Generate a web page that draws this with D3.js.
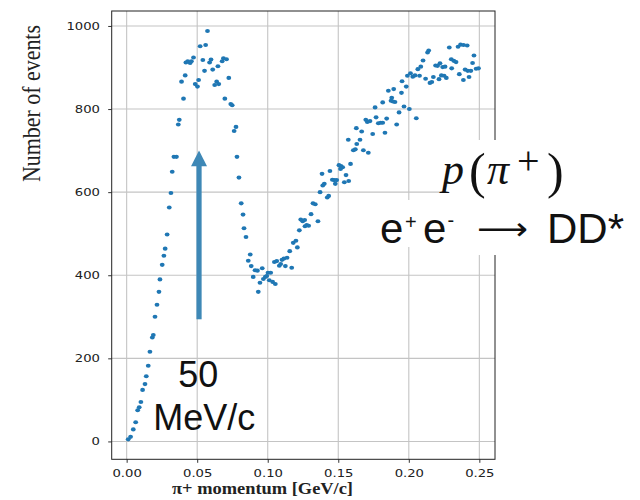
<!DOCTYPE html>
<html>
<head>
<meta charset="utf-8">
<script src="https://cdn.jsdelivr.net/npm/d3@7"></script>
<style>
  body { margin: 0; background: #fff; }
  svg { display: block; }
</style>
</head>
<body>
<svg id="chart" width="640" height="500"></svg>
<script>
// pi+ momentum (GeV/c) and event counts
const momentum = [
  0.0011, 0.0028, 0.0047, 0.0064, 0.0078, 0.0089, 0.0101, 0.0113, 0.0130, 0.0139,
  0.0153, 0.0165, 0.0182, 0.0189, 0.0201, 0.0215, 0.0229, 0.0236, 0.0252, 0.0264,
  0.0273, 0.0287, 0.0302, 0.0314, 0.0323, 0.0335, 0.0353, 0.0366, 0.0373, 0.0389,
  0.0403, 0.0415, 0.0420, 0.0433, 0.0450, 0.0459, 0.0474, 0.0486, 0.0502, 0.0510,
  0.0521, 0.0540, 0.0552, 0.0560, 0.0573, 0.0588, 0.0598, 0.0610, 0.0624, 0.0638,
  0.0647, 0.0653, 0.0677, 0.0686, 0.0696, 0.0708, 0.0724, 0.0738, 0.0748, 0.0762,
  0.0775, 0.0782, 0.0796, 0.0812, 0.0825, 0.0832, 0.0846, 0.0862, 0.0876, 0.0883,
  0.0897, 0.0910, 0.0927, 0.0933, 0.0945, 0.0961, 0.0969, 0.0983, 0.0993, 0.1002,
  0.1011, 0.1021, 0.1035, 0.1047, 0.1054, 0.1064, 0.1082, 0.1092, 0.1101, 0.1115,
  0.1125, 0.1137, 0.1156, 0.1170, 0.1181, 0.1200, 0.1210, 0.1224, 0.1234, 0.1248,
  0.1262, 0.1264, 0.1276, 0.1290, 0.1307, 0.1321, 0.1337, 0.1356, 0.1371, 0.1385,
  0.1390, 0.1401, 0.1422, 0.1432, 0.1441, 0.1458, 0.1471, 0.1479, 0.1489, 0.1505,
  0.1519, 0.1531, 0.1516, 0.1543, 0.1555, 0.1574, 0.1587, 0.1571, 0.1607, 0.1621,
  0.1631, 0.1628, 0.1654, 0.1666, 0.1678, 0.1695, 0.1706, 0.1713, 0.1725, 0.1744,
  0.1761, 0.1768, 0.1784, 0.1801, 0.1815, 0.1815, 0.1831, 0.1843, 0.1855, 0.1874,
  0.1879, 0.1888, 0.1893, 0.1902, 0.1914, 0.1931, 0.1948, 0.1952, 0.1966, 0.1982,
  0.1990, 0.2004, 0.2012, 0.2028, 0.2044, 0.2053, 0.2064, 0.2085, 0.2076, 0.2101,
  0.2119, 0.2133, 0.2141, 0.2150, 0.2163, 0.2174, 0.2190, 0.2204, 0.2214, 0.2221,
  0.2231, 0.2240, 0.2250, 0.2257, 0.2266, 0.2287, 0.2301, 0.2304, 0.2319, 0.2335,
  0.2349, 0.2358, 0.2367, 0.2388, 0.2387, 0.2399, 0.2414, 0.2418, 0.2427, 0.2440,
  0.2452, 0.2462, 0.2477, 0.2494
];
const events = [
  5, 11, 29, 46, 75, 82, 95, 124, 138, 157,
  182, 216, 250, 256, 300, 329, 360, 390, 425, 447,
  464, 498, 563, 598, 649, 685, 685, 763, 774, 866,
  825, 881, 912, 915, 911, 915, 924, 860, 854, 870,
  951, 918, 892, 954, 988, 912, 919, 895, 858, 866,
  903, 860, 915, 922, 825, 920, 875, 812, 809, 747,
  757, 685, 635, 573, 546, 513, 492, 435, 450, 422,
  396, 412, 411, 360, 382, 417, 391, 396, 398, 406,
  388, 406, 384, 432, 379, 434, 423, 427, 437, 440,
  422, 442, 458, 418, 478, 483, 467, 508, 534, 530,
  533, 518, 521, 519, 547, 573, 571, 530, 600, 644,
  616, 620, 587, 591, 651, 630, 629, 620, 629, 665,
  663, 660, 656, 624, 641, 627, 668, 726, 701, 703,
  716, 754, 726, 746, 701, 774, 769, 695, 771, 740,
  804, 780, 766, 767, 816, 767, 743, 777, 844, 820,
  827, 818, 848, 817, 763, 792, 839, 867, 806, 854,
  880, 800, 886, 878, 881, 778, 896, 902, 880, 917,
  873, 936, 941, 863, 865, 877, 905, 904, 872, 910,
  881, 901, 880, 902, 875, 948, 920, 898, 916, 913,
  950, 884, 955, 954, 870, 895, 953, 892, 877, 892,
  911, 929, 897, 898
];
const xTicks = [0, 0.05, 0.10, 0.15, 0.20, 0.25];
const yTicks = [0, 200, 400, 600, 800, 1000];

// annotation arrow: at 50 MeV/c, from ~294 up to ~700 events
const arrowAt = 0.0513;
const arrowSpan = [294, 700];

const LEFT = 111.7, RIGHT = 495, TOP = 11, BOTTOM = 459.3;
const STRETCH = 1.2; // the source figure was stretched sideways

const svg = d3.select("#chart");

const x = d3.scaleLinear().domain([-0.0106, 0.2611]).range([LEFT, RIGHT]);
const y = d3.scaleLinear().domain([-43, 1036]).range([BOTTOM, TOP]);

// grid
const grid = svg.append("g").attr("stroke", "#c4c4c4").attr("stroke-width", 1.1);
grid.selectAll(".gx").data(xTicks).join("line")
  .attr("x1", d => x(d)).attr("x2", d => x(d))
  .attr("y1", TOP).attr("y2", BOTTOM);
grid.selectAll(".gy").data(yTicks).join("line")
  .attr("x1", LEFT).attr("x2", RIGHT)
  .attr("y1", d => y(d)).attr("y2", d => y(d));

// axes
const xAxis = svg.append("g")
  .attr("transform", `translate(0, ${BOTTOM})`)
  .call(d3.axisBottom(x).tickValues(xTicks).tickFormat(d3.format(".2f"))
    .tickSize(3.5).tickPadding(6.5));
const yAxis = svg.append("g")
  .attr("transform", `translate(${LEFT}, 0)`)
  .call(d3.axisLeft(y).tickValues(yTicks).tickFormat(d3.format("d"))
    .tickSize(3.5).tickPadding(6.25));

[xAxis, yAxis].forEach(g => {
  g.select(".domain").remove();
  g.selectAll(".tick line").attr("stroke", "#333");
  g.selectAll(".tick text")
    .attr("fill", "#222")
    .attr("font-family", "DejaVu Sans")
    .attr("font-size", 11)
    .attr("transform", `scale(${STRETCH},1)`);
});

// points
svg.append("g")
  .selectAll("ellipse")
  .data(momentum.map((m, i) => [m, events[i]]))
  .join("ellipse")
  .attr("cx", d => x(d[0]))
  .attr("cy", d => y(d[1]))
  .attr("rx", 2.4)
  .attr("ry", 2.05)
  .attr("fill", "#1f77b4");

// frame
svg.append("rect")
  .attr("x", LEFT).attr("y", TOP)
  .attr("width", RIGHT - LEFT).attr("height", BOTTOM - TOP)
  .attr("fill", "none").attr("stroke", "#222").attr("stroke-width", 1);

// axis labels
svg.append("text")
  .attr("x", 172).attr("y", 494)
  .attr("font-family", "Liberation Serif").attr("font-weight", "bold")
  .attr("font-size", 17)
  .attr("textLength", 181).attr("lengthAdjust", "spacingAndGlyphs")
  .attr("fill", "#222")
  .text("\u03c0+ momentum [GeV/c]");

svg.append("text")
  .attr("transform", "translate(40, 103.5) rotate(-90)")
  .attr("text-anchor", "middle")
  .attr("font-family", "Liberation Serif")
  .attr("font-size", 25)
  .attr("textLength", 157).attr("lengthAdjust", "spacingAndGlyphs")
  .attr("fill", "#222")
  .text("Number of events");

// arrow
const ax = x(arrowAt), tip = y(arrowSpan[1]), tail = y(arrowSpan[0]);
svg.append("rect")
  .attr("x", ax - 2.6).attr("y", tip + 14)
  .attr("width", 5.2).attr("height", tail - tip - 14)
  .attr("fill", "#3e88b6");
svg.append("path")
  .attr("d", `M${ax},${tip} L${ax + 8},${tip + 15.6} L${ax - 8},${tip + 15.6} Z`)
  .attr("fill", "#3e88b6");

// "50 MeV/c"
const note = svg.append("g")
  .attr("font-family", "Liberation Sans").attr("font-size", 36)
  .attr("text-anchor", "middle").attr("fill", "#111");
note.append("text").attr("x", 198.3).attr("y", 387).text("50");
note.append("text").attr("x", 204.2).attr("y", 430).text("MeV/c");

// white boxes behind the overlay formulas
const boxes = [[443, 140, 197, 60], [374, 200, 266, 47], [470, 247, 170, 8]];
svg.append("g").selectAll("rect").data(boxes).join("rect")
  .attr("x", d => d[0]).attr("y", d => d[1])
  .attr("width", d => d[2]).attr("height", d => d[3])
  .attr("fill", "#fff");

// p(pi+)
const pp = svg.append("g").attr("font-family", "Liberation Serif").attr("fill", "#111");
pp.append("text").attr("x", 442).attr("y", 184).attr("font-size", 44)
  .attr("font-style", "italic").text("p");
pp.append("text").attr("x", 469).attr("y", 188).attr("font-size", 50).text("(");
pp.append("text").attr("x", 487).attr("y", 184).attr("font-size", 44)
  .attr("font-style", "italic").text("\u03c0");
pp.append("text").attr("x", 517).attr("y", 174).attr("font-size", 40).text("+");
pp.append("text").attr("x", 547).attr("y", 188).attr("font-size", 50).text(")");

// e+e- -> DD*
const ee = svg.append("g").attr("font-family", "Liberation Sans").attr("fill", "#111");
ee.append("text").attr("x", 380).attr("y", 243).attr("font-size", 42).text("e");
ee.append("text").attr("x", 405).attr("y", 229).attr("font-size", 20).text("+");
ee.append("text").attr("x", 423).attr("y", 243).attr("font-size", 42).text("e");
ee.append("text").attr("x", 447.5).attr("y", 227).attr("font-size", 20).text("-");
ee.append("text").attr("x", 477).attr("y", 240).attr("font-size", 32)
  .attr("font-family", "DejaVu Sans")
  .attr("textLength", 51).attr("lengthAdjust", "spacingAndGlyphs")
  .text("\u27f6");
ee.append("text").attr("x", 547).attr("y", 243).attr("font-size", 42).text("DD*");
</script>
</body>
</html>
